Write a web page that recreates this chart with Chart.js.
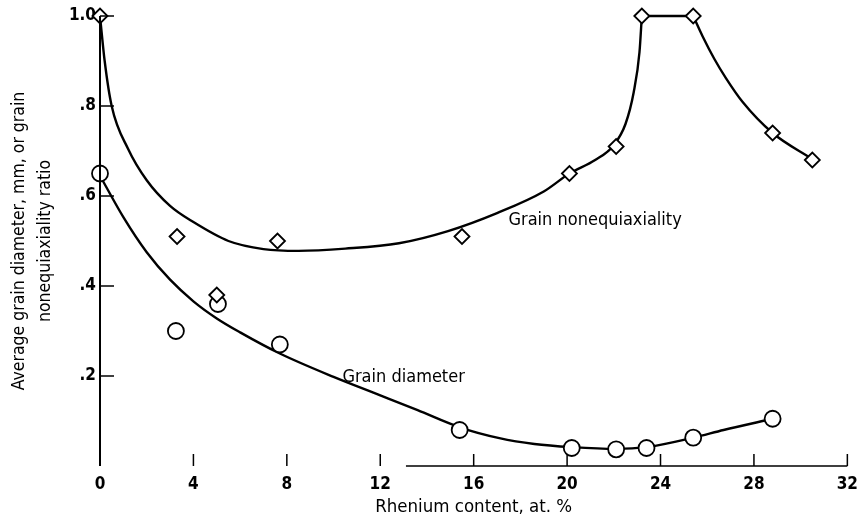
<!DOCTYPE html>
<html>
<head>
<meta charset="utf-8">
<script src="https://cdn.jsdelivr.net/npm/chart.js@4.4.1/dist/chart.umd.min.js"></script>
<style>
  html, body { margin: 0; padding: 0; background: #fff; }
  #wrap { width: 866px; height: 519px; }
</style>
</head>
<body>
<div id="wrap"><canvas id="grain-chart" width="866" height="519"></canvas></div>
<script>
const rheniumDiamonds = [0, 3.3, 5.0, 7.6, 15.5, 20.1, 22.1, 23.2, 25.4, 28.8, 30.5];
const nonequiaxRatio = [1.0, 0.51, 0.38, 0.50, 0.51, 0.65, 0.71, 1.0, 1.0, 0.74, 0.68];

const rheniumCircles = [0, 3.25, 5.05, 7.7, 15.4, 20.2, 22.1, 23.4, 25.4, 28.8];
const grainDiameter = [0.65, 0.30, 0.36, 0.27, 0.08, 0.04, 0.037, 0.04, 0.063, 0.105];

// faired nonequiaxiality curve, in three pieces (rise, plateau, fall)
const riseX = [0, 0.2, 0.5, 1.2, 2.0, 3.0, 4.0, 5.5, 7.0, 8.5, 10.5, 12.8, 14.9, 17.0, 19.0, 20.1, 21.2, 22.0, 22.5, 22.85, 23.1, 23.2];
const riseY = [1.0, 0.9, 0.8, 0.705, 0.635, 0.578, 0.542, 0.5, 0.482, 0.478, 0.483, 0.495, 0.522, 0.562, 0.61, 0.65, 0.68, 0.713, 0.76, 0.83, 0.92, 1.0];
const plateauX = [23.2, 25.4];
const plateauY = [1.0, 1.0];
const fallX = [25.4, 25.8, 26.3, 26.8, 27.5, 28.8, 30.5];
const fallY = [1.0, 0.955, 0.905, 0.862, 0.81, 0.74, 0.682];

// faired grain diameter curve
const diameterCurveX = [0, 1, 2, 3, 4, 5, 6, 7.7, 10, 12, 13.6, 15.4, 17.1, 18.6, 20.2, 22.1, 23.4, 25.4, 26.7, 28.8];
const diameterCurveY = [0.645, 0.553, 0.475, 0.414, 0.366, 0.328, 0.297, 0.25, 0.198, 0.157, 0.124, 0.086, 0.062, 0.049, 0.042, 0.038, 0.042, 0.063, 0.08, 0.105];

// axes
const xTicks = [0, 4, 8, 12, 16, 20, 24, 28, 32];
const yTicks = [0.2, 0.4, 0.6, 0.8, 1.0];
const xAxisLineFrom = 13.1;

// curve labels
const curveLabels = [
    { text: 'Grain nonequiaxiality', x: 21.2, y: 0.547 },
    { text: 'Grain diameter', x: 13.0, y: 0.198 }
];

const FONT = '"Liberation Sans Narrow", "DejaVu Sans Condensed", "Roboto", sans-serif';

function toPoints(xs, ys) {
    return xs.map((v, i) => ({ x: v, y: ys[i] }));
}

function curve(xs, ys) {
    return {
        data: toPoints(xs, ys),
        showLine: true,
        borderColor: '#000',
        borderWidth: 2.4,
        pointRadius: 0,
        cubicInterpolationMode: 'monotone',
        clip: false
    };
}

// axis lines and inward ticks, like the original drawing
const axisFrame = {
    id: 'axisFrame',
    afterDatasetsDraw(chart) {
        const { ctx, scales: { x, y } } = chart;
        const x0 = x.getPixelForValue(0);
        const yb = y.getPixelForValue(0);
        ctx.save();
        ctx.strokeStyle = '#000';
        ctx.lineWidth = 2;
        ctx.beginPath();
        ctx.moveTo(x0, yb);
        ctx.lineTo(x0, y.getPixelForValue(1));
        ctx.stroke();

        ctx.lineWidth = 1.5;
        ctx.beginPath();
        yTicks.forEach(v => {
            const py = y.getPixelForValue(v);
            ctx.moveTo(x0, py);
            ctx.lineTo(x0 + 14, py);
        });
        ctx.moveTo(x.getPixelForValue(xAxisLineFrom), yb);
        ctx.lineTo(x.getPixelForValue(32), yb);
        xTicks.forEach(v => {
            if (v === 0) return;
            const px = x.getPixelForValue(v);
            ctx.moveTo(px, yb);
            ctx.lineTo(px, yb - 12);
        });
        ctx.stroke();

        ctx.fillStyle = '#000';
        ctx.font = '18px ' + FONT;
        ctx.textAlign = 'center';
        ctx.textBaseline = 'middle';
        curveLabels.forEach(l => {
            ctx.fillText(l.text, x.getPixelForValue(l.x), y.getPixelForValue(l.y));
        });
        ctx.restore();
    }
};

const ctx = document.getElementById('grain-chart').getContext('2d');

new Chart(ctx, {
    type: 'scatter',
    data: {
        datasets: [
            {
                label: 'Grain nonequiaxiality',
                data: toPoints(rheniumDiamonds, nonequiaxRatio),
                pointStyle: 'rectRot',
                pointRadius: 7.5,
                pointBackgroundColor: '#fff',
                pointBorderColor: '#000',
                pointBorderWidth: 1.8,
                showLine: false,
                clip: false
            },
            {
                label: 'Grain diameter',
                data: toPoints(rheniumCircles, grainDiameter),
                pointStyle: 'circle',
                pointRadius: 8,
                pointBackgroundColor: '#fff',
                pointBorderColor: '#000',
                pointBorderWidth: 1.8,
                showLine: false,
                clip: false
            },
            curve(riseX, riseY),
            curve(plateauX, plateauY),
            curve(fallX, fallY),
            curve(diameterCurveX, diameterCurveY)
        ]
    },
    options: {
        responsive: false,
        animation: false,
        devicePixelRatio: 1,
        layout: { padding: { top: 16, right: 12, left: 0, bottom: 0 } },
        plugins: {
            legend: { display: false },
            tooltip: { enabled: false }
        },
        scales: {
            x: {
                type: 'linear',
                min: 0,
                max: 32,
                afterFit: (scale) => { scale.height = 53; },
                grid: { display: false, drawTicks: false },
                border: { display: false },
                ticks: {
                    stepSize: 4,
                    padding: 8,
                    color: '#000',
                    font: { family: FONT, size: 17, weight: 'bold' }
                },
                title: {
                    display: true,
                    text: 'Rhenium content, at. %',
                    color: '#000',
                    font: { family: FONT, size: 18.5 },
                    padding: { top: 0, bottom: 1 }
                }
            },
            y: {
                type: 'linear',
                min: 0,
                max: 1,
                afterFit: (scale) => { scale.width = 100; },
                grid: { display: false, drawTicks: false },
                border: { display: false },
                ticks: {
                    stepSize: 0.2,
                    padding: 4,
                    color: '#000',
                    font: { family: FONT, size: 17, weight: 'bold' },
                    callback: (value) => {
                        if (value === 0) return '';
                        const s = value.toFixed(1);
                        return s === '1.0' ? '1.0' : s.replace(/^0/, '');
                    }
                },
                title: {
                    display: true,
                    text: ['Average grain diameter, mm, or grain', 'nonequiaxiality ratio'],
                    color: '#000',
                    font: { family: FONT, size: 17.5, lineHeight: 1.45 },
                    padding: { top: 7, bottom: 0 }
                }
            }
        }
    },
    plugins: [axisFrame]
});
</script>
</body>
</html>
